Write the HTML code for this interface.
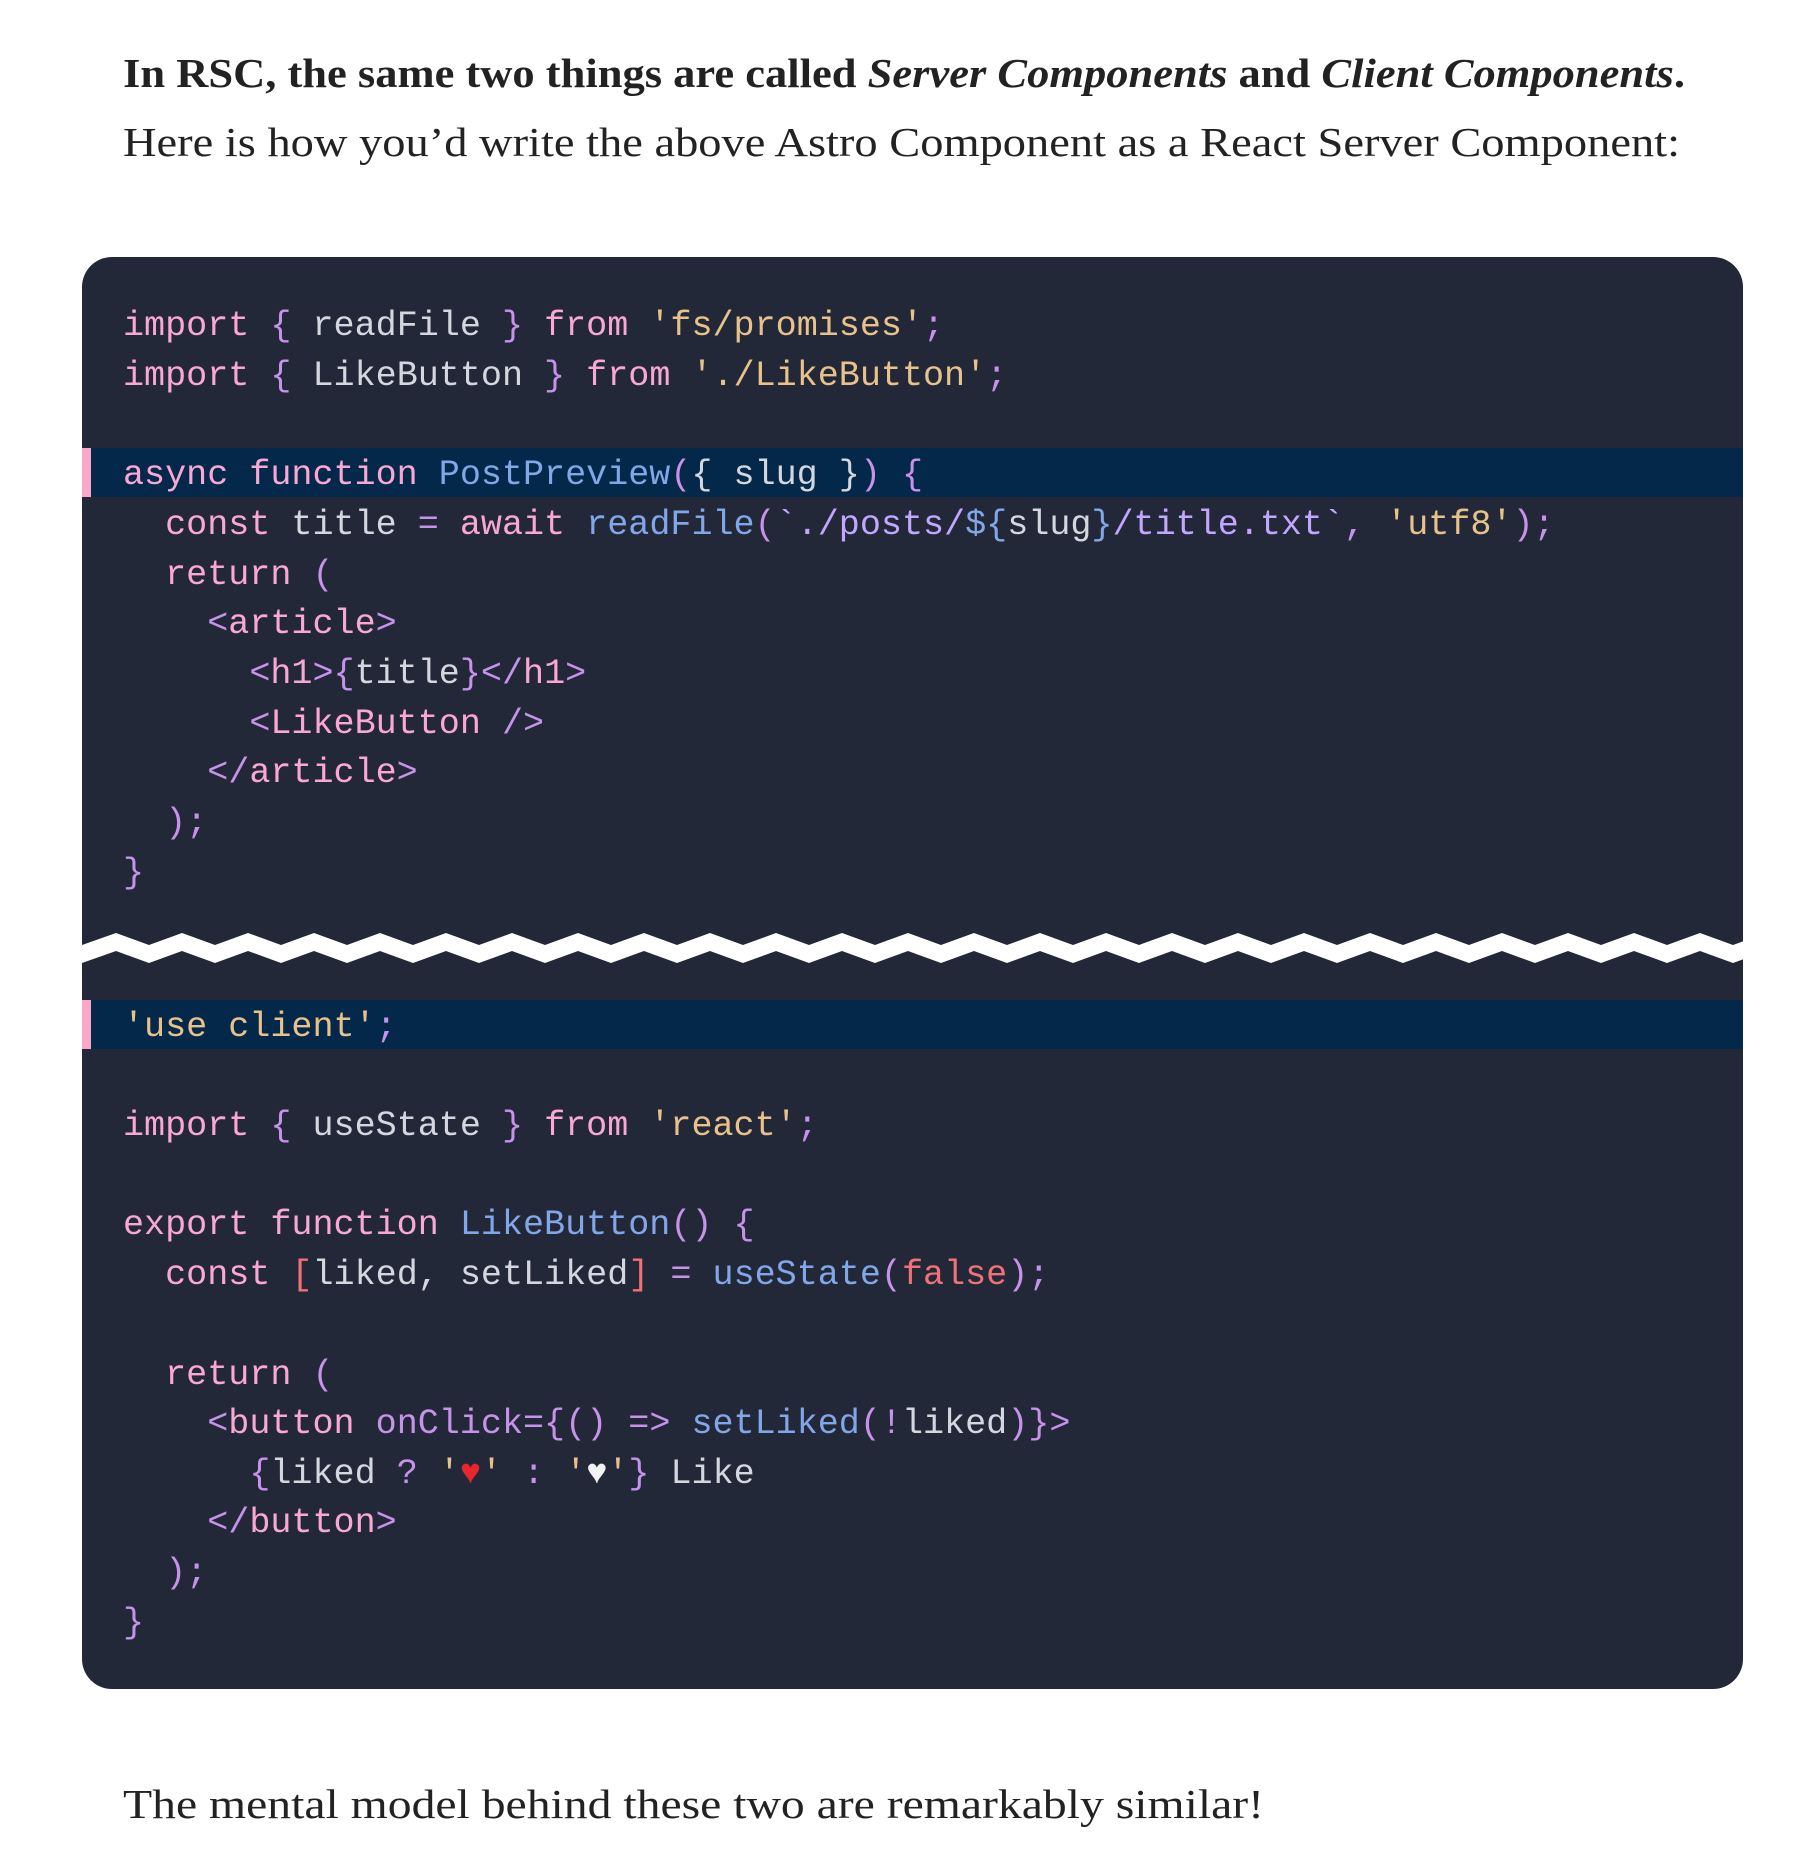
<!DOCTYPE html>
<html><head><meta charset="utf-8">
<style>
html,body{margin:0;padding:0;background:#fff;}
body{width:1816px;height:1864px;position:relative;overflow:hidden;}
.blk{position:absolute;left:82px;top:257px;width:1651px;height:1422px;background:#232838;border-radius:30px;overflow:hidden;}
.hl{position:absolute;left:0;width:1651px;height:49px;background:#03284a;}
.bar{position:absolute;left:0;width:9px;height:49px;background:#f9a8c9;}
.ln{position:absolute;left:41px;height:50px;line-height:50px;font-family:"Liberation Mono","DejaVu Sans Mono",monospace;font-size:35.1px;white-space:pre;color:#d4d7de;}
.k{color:#f9a8d4}.p{color:#c792ea}.s{color:#e8c28b}.f{color:#82a7e8}.t{color:#c3a6ff}.r{color:#f07178}.g{color:#d4d7de}
svg.txt{position:absolute;left:0;top:0;}
</style></head><body>
<svg class="txt" width="1816" height="1864">
<text x="123" y="87" textLength="1562" lengthAdjust="spacingAndGlyphs" font-family="Liberation Serif, serif" font-size="41" font-weight="bold" fill="#222">In RSC, the same two things are called <tspan font-style="italic">Server Components</tspan> and <tspan font-style="italic">Client Components</tspan>.</text>
<text x="123" y="156" textLength="1557" lengthAdjust="spacingAndGlyphs" font-family="Liberation Serif, serif" font-size="41" fill="#222">Here is how you’d write the above Astro Component as a React Server Component:</text>
<text x="123" y="1818" textLength="1141" lengthAdjust="spacingAndGlyphs" font-family="Liberation Serif, serif" font-size="41" fill="#222">The mental model behind these two are remarkably similar!</text>
</svg>
<div class="blk" style="width:1661px;height:1432px">
<div class="hl" style="top:191px;width:1661px"></div><div class="bar" style="top:191px"></div>
<div class="hl" style="top:743px;width:1661px"></div><div class="bar" style="top:743px"></div>
<svg style="position:absolute;left:0;top:0" width="1661" height="1432">
<polygon fill="#fff" points="0,688 34,676 67,688 100,676 133,688 166,676 199,688 232,676 265,688 298,676 331,688 364,676 397,688 430,676 463,688 496,676 529,688 562,676 595,688 628,676 661,688 694,676 727,688 760,676 793,688 826,676 859,688 892,676 925,688 958,676 991,688 1024,676 1057,688 1090,676 1123,688 1156,676 1189,688 1222,676 1255,688 1288,676 1321,688 1354,676 1387,688 1420,676 1453,688 1486,676 1519,688 1552,676 1585,688 1618,676 1651,688 1684,676 1684,694 1651,706 1618,694 1585,706 1552,694 1519,706 1486,694 1453,706 1420,694 1387,706 1354,694 1321,706 1288,694 1255,706 1222,694 1189,706 1156,694 1123,706 1090,694 1057,706 1024,694 991,706 958,694 925,706 892,694 859,706 826,694 793,706 760,694 727,706 694,694 661,706 628,694 595,706 562,694 529,706 496,694 463,706 430,694 397,706 364,694 331,706 298,694 265,706 232,694 199,706 166,694 133,706 100,694 67,706 34,694 0,706"/>
</svg>
<div class="ln" style="top:44px"><span class="k">import</span> <span class="p">{</span> readFile <span class="p">}</span> <span class="k">from</span> <span class="s">'fs/promises'</span><span class="p">;</span></div>
<div class="ln" style="top:94px"><span class="k">import</span> <span class="p">{</span> LikeButton <span class="p">}</span> <span class="k">from</span> <span class="s">'./LikeButton'</span><span class="p">;</span></div>
<div class="ln" style="top:193px"><span class="k">async function</span> <span class="f">PostPreview</span><span class="p">(</span>{ slug }<span class="p">)</span> <span class="p">{</span></div>
<div class="ln" style="top:243px">  <span class="k">const</span> title <span class="p">=</span> <span class="k">await</span> <span class="f">readFile</span><span class="p">(</span><span class="t">`./posts/</span><span class="f">${</span>slug<span class="f">}</span><span class="t">/title.txt`</span><span class="p">,</span> <span class="s">'utf8'</span><span class="p">);</span></div>
<div class="ln" style="top:293px">  <span class="k">return</span> <span class="p">(</span></div>
<div class="ln" style="top:342px">    <span class="p">&lt;</span><span class="k">article</span><span class="p">&gt;</span></div>
<div class="ln" style="top:392px">      <span class="p">&lt;</span><span class="k">h1</span><span class="p">&gt;{</span>title<span class="p">}&lt;/</span><span class="k">h1</span><span class="p">&gt;</span></div>
<div class="ln" style="top:442px">      <span class="p">&lt;</span><span class="k">LikeButton</span> <span class="p">/&gt;</span></div>
<div class="ln" style="top:491px">    <span class="p">&lt;/</span><span class="k">article</span><span class="p">&gt;</span></div>
<div class="ln" style="top:541px">  <span class="p">);</span></div>
<div class="ln" style="top:591px"><span class="p">}</span></div>
<div class="ln" style="top:745px"><span class="s">'use client'</span><span class="p">;</span></div>
<div class="ln" style="top:844px"><span class="k">import</span> <span class="p">{</span> useState <span class="p">}</span> <span class="k">from</span> <span class="s">'react'</span><span class="p">;</span></div>
<div class="ln" style="top:943px"><span class="k">export function</span> <span class="f">LikeButton</span><span class="p">() {</span></div>
<div class="ln" style="top:993px">  <span class="k">const</span> <span class="r">[</span>liked, setLiked<span class="r">]</span> <span class="p">=</span> <span class="f">useState</span><span class="p">(</span><span class="r">false</span><span class="p">);</span></div>
<div class="ln" style="top:1093px">  <span class="k">return</span> <span class="p">(</span></div>
<div class="ln" style="top:1142px">    <span class="p">&lt;</span><span class="k">button</span> <span class="p">onClick={()</span> <span class="p">=&gt;</span> <span class="f">setLiked</span><span class="p">(!</span>liked<span class="p">)}&gt;</span></div>
<div class="ln" style="top:1192px">      <span class="p">{</span>liked <span class="p">?</span> <span class="s">'</span><span style="color:#e8262b">♥</span><span class="s">'</span> <span class="p">:</span> <span class="s">'</span><span style="color:#f2f2f2">♥</span><span class="s">'</span><span class="p">}</span> Like</div>
<div class="ln" style="top:1241px">    <span class="p">&lt;/</span><span class="k">button</span><span class="p">&gt;</span></div>
<div class="ln" style="top:1291px">  <span class="p">);</span></div>
<div class="ln" style="top:1341px"><span class="p">}</span></div>
</div>
</body></html>
